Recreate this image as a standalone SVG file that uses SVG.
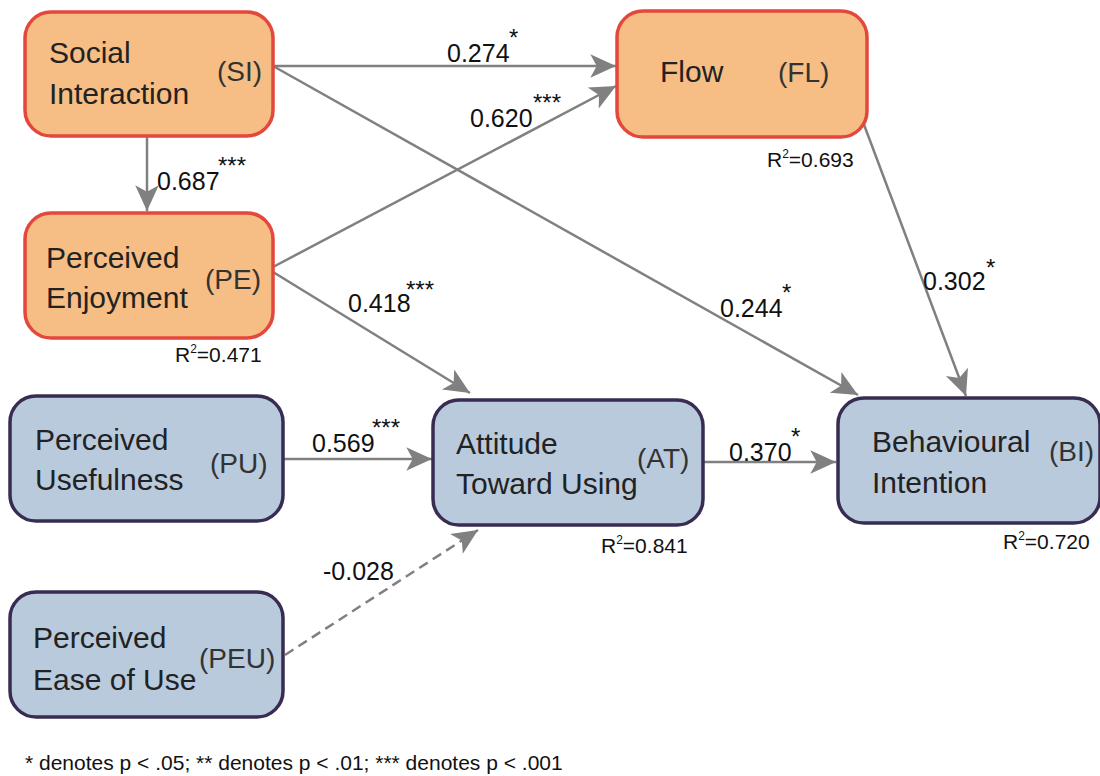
<svg xmlns="http://www.w3.org/2000/svg" width="1100" height="776" viewBox="0 0 1100 776">
<defs>
<marker id="arr" markerUnits="userSpaceOnUse" markerWidth="30" markerHeight="30" viewBox="-26 -13 28 26" refX="0" refY="0" orient="auto">
<path d="M0,0 L-24,-11 L-18,0 L-24,11 Z" fill="#808080"/>
</marker>
</defs>
<style>
.or{fill:#f6bd84;stroke:#e4473b;stroke-width:3.5}
.bl{fill:#b9cadd;stroke:#382c52;stroke-width:3.5}
.nt{font-family:"Liberation Sans",Arial,sans-serif;font-size:30px;fill:#222}
.ab{font-family:"Liberation Sans",Arial,sans-serif;font-size:28px;fill:#333}
.lb{font-family:"Liberation Sans",Arial,sans-serif;font-size:25px;fill:#111}
.st{font-family:"Liberation Sans",Arial,sans-serif;font-size:24px;fill:#111}
.r2{font-family:"Liberation Sans",Arial,sans-serif;font-size:21px;fill:#111}
.sup{font-size:12px}
.c{fill:none;stroke:#808080;stroke-width:2.5;marker-end:url(#arr)}
.fn{font-family:"Liberation Sans",Arial,sans-serif;font-size:21px;fill:#111}
</style>
<rect width="1100" height="776" fill="#fff"/>
<g id="connectors">
<line class="c" x1="273" y1="66" x2="616" y2="66"/>
<line class="c" x1="273" y1="267" x2="616" y2="86"/>
<line class="c" x1="273" y1="66" x2="858" y2="395"/>
<line class="c" x1="147" y1="137" x2="147" y2="211"/>
<line class="c" x1="273" y1="272" x2="470" y2="393"/>
<line class="c" x1="863" y1="122" x2="966" y2="396"/>
<line class="c" x1="283" y1="459" x2="432" y2="459"/>
<line class="c" x1="703" y1="462" x2="836" y2="462"/>
<line class="c" x1="285" y1="655" x2="478" y2="530" stroke-dasharray="10 6"/>
</g>
<g id="edge-labels">
<text class="lb" x="447" y="62">0.274</text><text class="st" x="509" y="46">*</text>
<text class="lb" x="470" y="127">0.620</text><text class="st" x="533" y="111">***</text>
<text class="lb" x="157" y="190">0.687</text><text class="st" x="218" y="174">***</text>
<text class="lb" x="348" y="312">0.418</text><text class="st" x="406" y="298">***</text>
<text class="lb" x="720" y="317">0.244</text><text class="st" x="782" y="301">*</text>
<text class="lb" x="923" y="290">0.302</text><text class="st" x="986" y="276">*</text>
<text class="lb" x="312" y="452">0.569</text><text class="st" x="372" y="436">***</text>
<text class="lb" x="729" y="461">0.370</text><text class="st" x="791" y="445">*</text>
<text class="lb" x="323" y="580">-0.028</text>
</g>
<g id="SI">
<rect class="or" x="25" y="12" width="248" height="124" rx="26"/>
<text class="nt" x="49" y="63">Social</text>
<text class="nt" x="49" y="104">Interaction</text>
<text class="ab" x="217" y="81">(SI)</text>
</g>
<g id="FL">
<rect class="or" x="617" y="11" width="250" height="126" rx="26"/>
<text class="nt" x="660" y="82">Flow</text>
<text class="ab" x="778" y="82">(FL)</text>
<text class="r2" x="767" y="167">R<tspan class="sup" dy="-9">2</tspan><tspan dy="9">=0.693</tspan></text>
</g>
<g id="PE">
<rect class="or" x="25" y="213" width="248" height="125" rx="26"/>
<text class="nt" x="46" y="268">Perceived</text>
<text class="nt" x="46" y="308">Enjoyment</text>
<text class="ab" x="205" y="289">(PE)</text>
<text class="r2" x="175" y="362">R<tspan class="sup" dy="-9">2</tspan><tspan dy="9">=0.471</tspan></text>
</g>
<g id="PU">
<rect class="bl" x="10" y="396" width="273" height="125" rx="26"/>
<text class="nt" x="35" y="450">Perceived</text>
<text class="nt" x="35" y="490">Usefulness</text>
<text class="ab" x="210" y="473">(PU)</text>
</g>
<g id="AT">
<rect class="bl" x="433" y="400" width="270" height="125" rx="26"/>
<text class="nt" x="456" y="454">Attitude</text>
<text class="nt" x="456" y="494">Toward Using</text>
<text class="ab" x="637" y="468">(AT)</text>
<text class="r2" x="601" y="553">R<tspan class="sup" dy="-9">2</tspan><tspan dy="9">=0.841</tspan></text>
</g>
<g id="BI">
<rect class="bl" x="838" y="398" width="262" height="125" rx="26"/>
<text class="nt" x="872" y="452">Behavioural</text>
<text class="nt" x="872" y="493">Intention</text>
<text class="ab" x="1049" y="461">(BI)</text>
<text class="r2" x="1003" y="549">R<tspan class="sup" dy="-9">2</tspan><tspan dy="9">=0.720</tspan></text>
</g>
<g id="PEU">
<rect class="bl" x="10" y="592" width="273" height="125" rx="26"/>
<text class="nt" x="33" y="648">Perceived</text>
<text class="nt" x="33" y="690">Ease of Use</text>
<text class="ab" x="199" y="668">(PEU)</text>
</g>
<text class="fn" x="25" y="770">* denotes p &lt; .05; ** denotes p &lt; .01; *** denotes p &lt; .001</text>
</svg>
